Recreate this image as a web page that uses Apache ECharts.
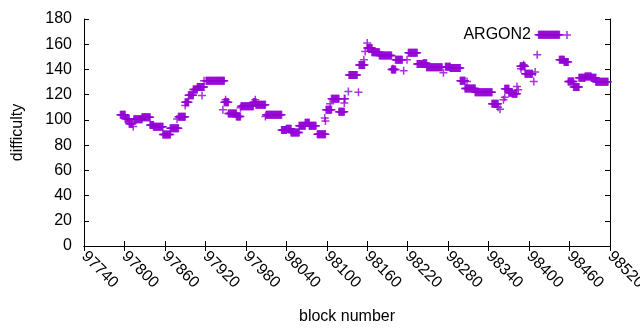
<!DOCTYPE html>
<html>
<head>
<meta charset="utf-8">
<script src="https://cdn.jsdelivr.net/npm/echarts@6/dist/echarts.min.js"></script>
<style>
  html, body { margin: 0; padding: 0; background: #fff; }
  #chart { width: 640px; height: 330px; }
</style>
</head>
<body>
<div id="chart"></div>
<script>
// stretches of blocks that share one difficulty (start block, end block, value)
const runStart = [97794, 97801, 97807, 97814, 97826, 97838, 97843, 97857, 97868, 97880, 97890, 97895, 97902, 97908,
  97921, 97948, 97954, 97966, 97973, 97991, 97995, 98010, 98033, 98040, 98047, 98059, 98068, 98074, 98086,
  98099, 98107, 98118, 98133, 98148, 98160, 98167, 98178, 98196, 98202, 98221, 98234, 98243, 98248, 98276,
  98283, 98298, 98305, 98320, 98345, 98364, 98370, 98375, 98387, 98394, 98414, 98445, 98452, 98458, 98466,
  98474, 98483, 98492, 98499];
const runEnd = [97801, 97807, 97812, 97826, 97838, 97843, 97857, 97868, 97880, 97890, 97895, 97902, 97908, 97918,
  97948, 97954, 97966, 97972, 97991, 97995, 98009, 98033, 98040, 98047, 98059, 98068, 98074, 98084, 98098,
  98107, 98118, 98126, 98145, 98156, 98167, 98178, 98196, 98202, 98212, 98234, 98243, 98248, 98271, 98283,
  98298, 98305, 98320, 98345, 98354, 98370, 98375, 98382, 98394, 98405, 98445, 98452, 98458, 98466, 98474,
  98483, 98492, 98499, 98517];
const runValue = [104, 101, 97, 100.5, 102, 96, 94.5, 88.5, 93.3, 102.4, 114, 119.5, 124, 126,
  131, 114, 105, 102.7, 110.8, 114, 112, 104, 92, 93, 90, 95.3, 97.7, 95.3, 88.7,
  108, 116.7, 106.4, 135.5, 143.5, 157, 153.6, 151, 140, 147.7, 153.2, 144.3, 145, 141.7, 142.1,
  141.1, 131, 124.9, 122, 112.7, 124.7, 121.5, 120.7, 142.5, 136.6, 167.5, 147.7, 146, 130.5, 126,
  133.4, 134.4, 133.4, 130.2];

// isolated blocks
const singleBlock = [97813, 97878, 97890, 97915, 97918, 97946, 97950, 97972, 97994, 98009, 98097, 98098, 98105,
  98126, 98126, 98127, 98132, 98147, 98155, 98157, 98160, 98198, 98214, 98219, 98273, 98308, 98354, 98357,
  98362, 98364, 98382, 98384, 98388, 98392, 98407, 98409, 98412];
const singleValue = [94.7, 100.8, 111.4, 119.3, 131, 108, 115.9, 109.6, 115.9, 102.7, 101.4, 99.2, 112.8,
  116.7, 113.3, 116.7, 122.5, 122, 147.7, 154.3, 161, 140.5, 139, 147.7, 137.4, 130.5, 110.1, 108.5,
  115.9, 118, 126.5, 123.9, 140.5, 143.7, 130.5, 137.9, 151.7];

const seriesName = 'ARGON2';

const points = [];
runStart.forEach((s, i) => {
  for (let b = s; b <= runEnd[i]; b++) points.push([b, runValue[i]]);
});
singleBlock.forEach((b, i) => points.push([b, singleValue[i]]));

const plus = 'path://M3.25 0H4.75V3.25H8V4.75H4.75V8H3.25V4.75H0V3.25H3.25Z';
const font = 'Liberation Sans';
const black = '#000';

const chart = echarts.init(document.getElementById('chart'), null, { renderer: 'canvas' });

const tickStyle = { show: true, inside: true, length: 5, lineStyle: { color: black, width: 1 } };
const lineStyle = { show: true, lineStyle: { color: black, width: 1 } };

const option = {
  animation: false,
  backgroundColor: '#fff',
  textStyle: { fontFamily: font },
  grid: { left: 84, right: 30, top: 19, bottom: 84, containLabel: false, outerBoundsMode: 'none' },
  legend: {
    data: [{ name: seriesName, icon: plus }],
    right: 64,
    top: 22,
    align: 'right',
    itemWidth: 62,
    itemHeight: 8,
    textStyle: { fontFamily: font, fontSize: 16, color: black }
  },
  xAxis: [
    {
      type: 'value', position: 'bottom',
      min: 97740, max: 98520, interval: 60,
      name: 'block number', nameLocation: 'middle', nameGap: 63,
      nameTextStyle: { fontFamily: font, fontSize: 16, color: black },
      axisLine: lineStyle, axisTick: tickStyle, splitLine: { show: false },
      axisLabel: { rotate: -45, margin: 8, fontFamily: font, fontSize: 16, color: black,
        formatter: v => String(v) }
    },
    {
      type: 'value', position: 'top',
      min: 97740, max: 98520, interval: 60,
      axisLine: lineStyle, axisTick: tickStyle, splitLine: { show: false },
      axisLabel: { show: false }
    }
  ],
  yAxis: [
    {
      type: 'value', position: 'left',
      min: 0, max: 180, interval: 20,
      name: 'difficulty', nameLocation: 'middle', nameGap: 58, nameRotate: 90,
      nameTextStyle: { fontFamily: font, fontSize: 16, color: black },
      axisLine: lineStyle, axisTick: tickStyle, splitLine: { show: false },
      axisLabel: { margin: 12, fontFamily: font, fontSize: 16, color: black }
    },
    {
      type: 'value', position: 'right',
      min: 0, max: 180, interval: 20,
      axisLine: lineStyle, axisTick: tickStyle, splitLine: { show: false },
      axisLabel: { show: false }
    }
  ],
  series: [
    {
      name: seriesName,
      type: 'scatter',
      xAxisIndex: 0,
      yAxisIndex: 0,
      symbol: plus,
      symbolSize: 8,
      itemStyle: { color: '#9400d3' },
      data: points
    }
  ]
};

chart.setOption(option);
</script>
</body>
</html>
